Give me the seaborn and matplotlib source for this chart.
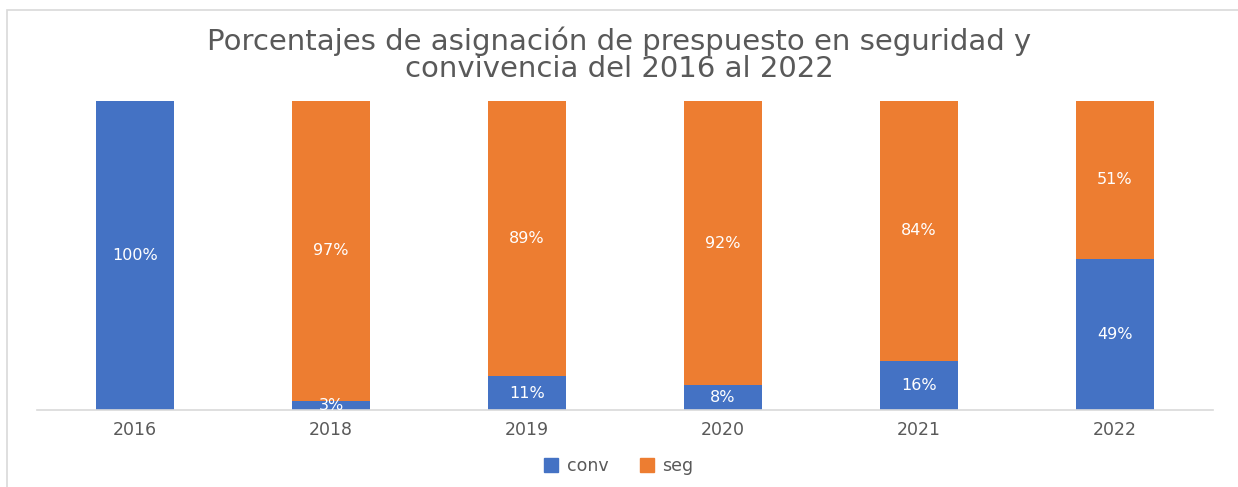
import matplotlib.pyplot as plt
import matplotlib.patches as mpatches
import seaborn as sns
import pandas as pd

years = ["2016", "2018", "2019", "2020", "2021", "2022"]
conv = [100, 3, 11, 8, 16, 49]
seg = [0, 97, 89, 92, 84, 51]

df = pd.DataFrame({"year": years, "conv": conv, "seg": seg})

sns.set_style("white")
plt.rcParams["font.family"] = ["DejaVu Sans"]

fig = plt.figure(figsize=(12.38, 4.87), dpi=100)
ax = fig.add_axes([37 / 1238, 1 - 410 / 487, (1213 - 37) / 1238, (410 - 101) / 487])

blue = "#4472C4"
orange = "#ED7D31"

# stacked bars: conv at the bottom, seg on top
sns.barplot(data=df, x="year", y="conv", color=blue, width=0.4, ax=ax,
            saturation=1, linewidth=0)
sns.barplot(data=df, x="year", y="seg", color=orange, width=0.4, ax=ax,
            saturation=1, linewidth=0, bottom=df["conv"])

for i, (c, s) in enumerate(zip(conv, seg)):
    if c > 0:
        ax.text(i, c / 2, f"{c}%", ha="center", va="center", color="white", fontsize=11.5)
    if s > 0:
        ax.text(i, c + s / 2, f"{s}%", ha="center", va="center", color="white", fontsize=11.5)

ax.set_ylim(0, 100)
ax.set_xlim(-0.5, 5.5)
ax.set_yticks([])
ax.set_xlabel("")
ax.set_ylabel("")
for sp in ["top", "right", "left"]:
    ax.spines[sp].set_visible(False)
ax.spines["bottom"].set_color("#D9D9D9")
ax.spines["bottom"].set_linewidth(1.2)
ax.tick_params(axis="x", length=0, labelsize=12.5, colors="#595959", pad=8)

fig.suptitle("Porcentajes de asignación de prespuesto en seguridad y\nconvivencia del 2016 al 2022",
             y=1 - 55 / 487, va="center", fontsize=21, color="#595959",
             family=["DejaVu Sans"], linespacing=0.95)

handles = [mpatches.Patch(color=blue, label="conv"), mpatches.Patch(color=orange, label="seg")]
fig.legend(handles=handles, loc="center", bbox_to_anchor=(0.5, 1 - 466 / 487), ncol=2,
           frameon=False, fontsize=12.5, handlelength=0.8, handleheight=0.8,
           columnspacing=1.8, handletextpad=0.5, labelcolor="#595959")

# thin chart-area border (left and top edges visible)
fig.add_artist(mpatches.Rectangle((7 / 1238, -0.1), 1.2, 1 - 10 / 487 + 0.1,
                                  transform=fig.transFigure, fill=False,
                                  edgecolor="#D9D9D9", linewidth=1.2))

fig.savefig("out.png", dpi=100, facecolor="white")
